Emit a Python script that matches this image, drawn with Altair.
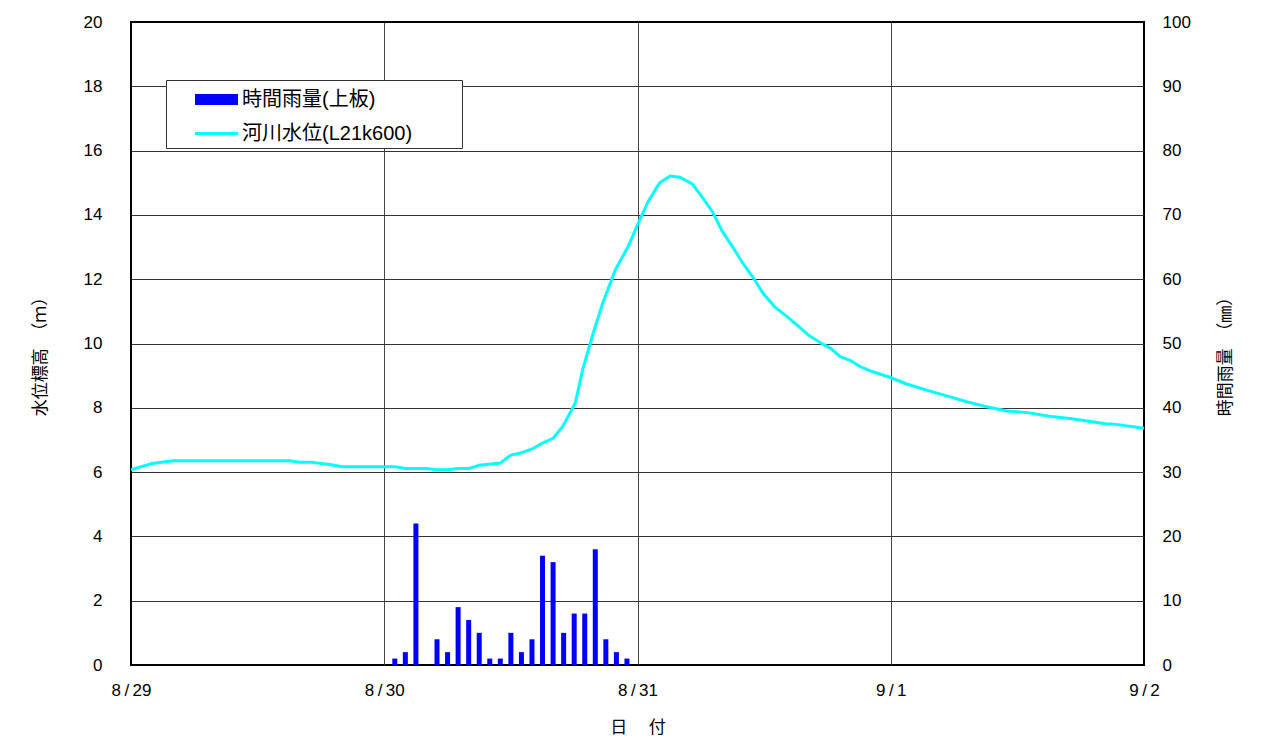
import altair as alt
import pandas as pd

FONT = "'Liberation Sans', Arial, 'Noto Sans CJK JP', sans-serif"

# ---- data ----
day_hours = [0, 24, 48, 72, 96]
day_labels = ["8/29", "8/30", "8/31", "9/1", "9/2"]

rain_name = "時間雨量(上板)"
level_name = "河川水位(L21k600)"

# hourly rainfall (mm), hours counted from 8/29 0:00
rain_hours = [25, 26, 27, 28, 29, 30, 31, 32, 33, 34, 35, 36,
              37, 38, 39, 40, 41, 42, 43, 44, 45, 46, 47]
rain_mm = [1, 2, 22, 0, 4, 2, 9, 7, 5, 1, 1, 5,
           2, 4, 17, 16, 5, 8, 8, 18, 4, 2, 1]

# river water level (m)
level_hours = [0, 2, 4, 15, 16, 17, 19, 20, 25, 26, 28, 29, 30, 31, 32, 33,
               35, 36, 37, 38, 39, 40, 40.9, 42.1, 42.8, 43.8, 44.7, 45.9,
               47.1, 48.2, 49, 50.1, 51.1, 52, 53.2, 54.1, 55.1, 56, 57.1,
               58, 59, 59.9, 61, 62.2, 63.1, 64.2, 65.3, 66.3, 67.2, 68.2,
               69.1, 70.3, 71.9, 73.5, 75.4, 77.3, 79.2, 81.1, 83, 85, 87,
               89, 90.6, 92.5, 93, 96]
level_m = [6.07, 6.27, 6.35, 6.35, 6.31, 6.31, 6.23, 6.17, 6.17, 6.11, 6.11,
           6.07, 6.07, 6.11, 6.11, 6.21, 6.28, 6.53, 6.60, 6.72, 6.90, 7.05,
           7.41, 8.14, 9.18, 10.32, 11.25, 12.29, 13.01, 13.84, 14.41, 15.00,
           15.21, 15.17, 14.96, 14.57, 14.10, 13.51, 12.96, 12.49, 12.03,
           11.56, 11.14, 10.83, 10.58, 10.26, 10.03, 9.85, 9.59, 9.47, 9.28,
           9.12, 8.95, 8.74, 8.55, 8.37, 8.19, 8.03, 7.90, 7.85, 7.74, 7.67,
           7.59, 7.50, 7.50, 7.36]

rain_df = pd.DataFrame({"hour": rain_hours, "rain": rain_mm, "series": rain_name})
level_df = pd.DataFrame({"hour": level_hours, "level": level_m, "series": level_name})

# ---- scales / axes ----
label_arr = "[" + ",".join("'" + l.replace("/", "\u2009/\u2009") + "'" for l in day_labels) + "]"

edge_x = {"condition": {"test": "datum.value == 0 || datum.value == 96", "value": "#000000"}, "value": "#444444"}
edge_y = {"condition": {"test": "datum.value == 0 || datum.value == 20", "value": "#000000"}, "value": "#333333"}

x_scale = alt.Scale(domain=[0, 96], nice=False, zero=False, padding=0)
x_axis = alt.Axis(values=day_hours, labelExpr=label_arr + "[round(datum.value / 24)]",
                  grid=True, gridColor=edge_x, gridWidth=1, ticks=False, domain=False,
                  labelPadding=17, labelAngle=0, labelFlush=False, labelAlign="center",
                  title="日\u3000 付", titleY=62, titleBaseline="middle",
                  titleFontWeight="normal")

color_scale = alt.Scale(domain=[rain_name, level_name], range=["#0000ff", "#00ffff"])
width_scale = alt.Scale(domain=[rain_name, level_name], range=[11, 3])

legend = alt.Legend(
    title=None, orient="none", legendX=35, legendY=58, direction="vertical",
    strokeColor="#333333", fillColor="#ffffff", padding=4,
    symbolType="M-2.15,0H2.15", symbolSize=400, symbolOffset=31,
    labelOffset=10, rowPadding=-2,
    labelFont=FONT, labelFontSize=20, labelColor="#000000", labelLimit=500,
    labelExpr="datum.label + '\u2800\u2800\u2800'",
)

line = alt.Chart(level_df).mark_line(clip=True).encode(
    x=alt.X("hour:Q", scale=x_scale, axis=x_axis),
    y=alt.Y("level:Q", scale=alt.Scale(domain=[0, 20], nice=False),
            axis=alt.Axis(values=list(range(0, 21, 2)), grid=True, gridColor=edge_y,
                          ticks=False, domain=False, labelPadding=29,
                          title="水位標高\u3000（ｍ）", titleAngle=270, titleX=-91, titleY=330,
                          titleBaseline="middle", titleAlign="center",
                          titleFontWeight="normal")),
    color=alt.Color("series:N", scale=color_scale, legend=legend),
    strokeWidth=alt.StrokeWidth("series:N", scale=width_scale, legend=legend),
)

bars = alt.Chart(rain_df).mark_bar(size=5).encode(
    x=alt.X("hour:Q", scale=x_scale, axis=x_axis),
    y=alt.Y("rain:Q", scale=alt.Scale(domain=[0, 100], nice=False),
            axis=alt.Axis(orient="right", values=list(range(0, 101, 10)), grid=False,
                          ticks=False, domain=False, labelPadding=18,
                          title="時間雨量\u3000（㎜）", titleAngle=270, titleX=81, titleY=330,
                          titleBaseline="middle", titleAlign="center",
                          titleFontWeight="normal")),
    color=alt.Color("series:N", scale=color_scale, legend=legend),
)

chart = alt.layer(line, bars).resolve_scale(y="independent").properties(
    width=1013, height=643,
    autosize=alt.AutoSizeParams(type="none"),
    padding={"left": 131, "top": 22, "right": 121, "bottom": 78},
    background="#ffffff",
).configure_view(
    stroke="#000000", strokeWidth=2,
).configure_axis(
    labelFont=FONT, titleFont=FONT, labelFontSize=17, titleFontSize=17,
    labelColor="#000000", titleColor="#000000",
)

chart.save("out.html", embed_options={"renderer": "svg", "actions": False})
